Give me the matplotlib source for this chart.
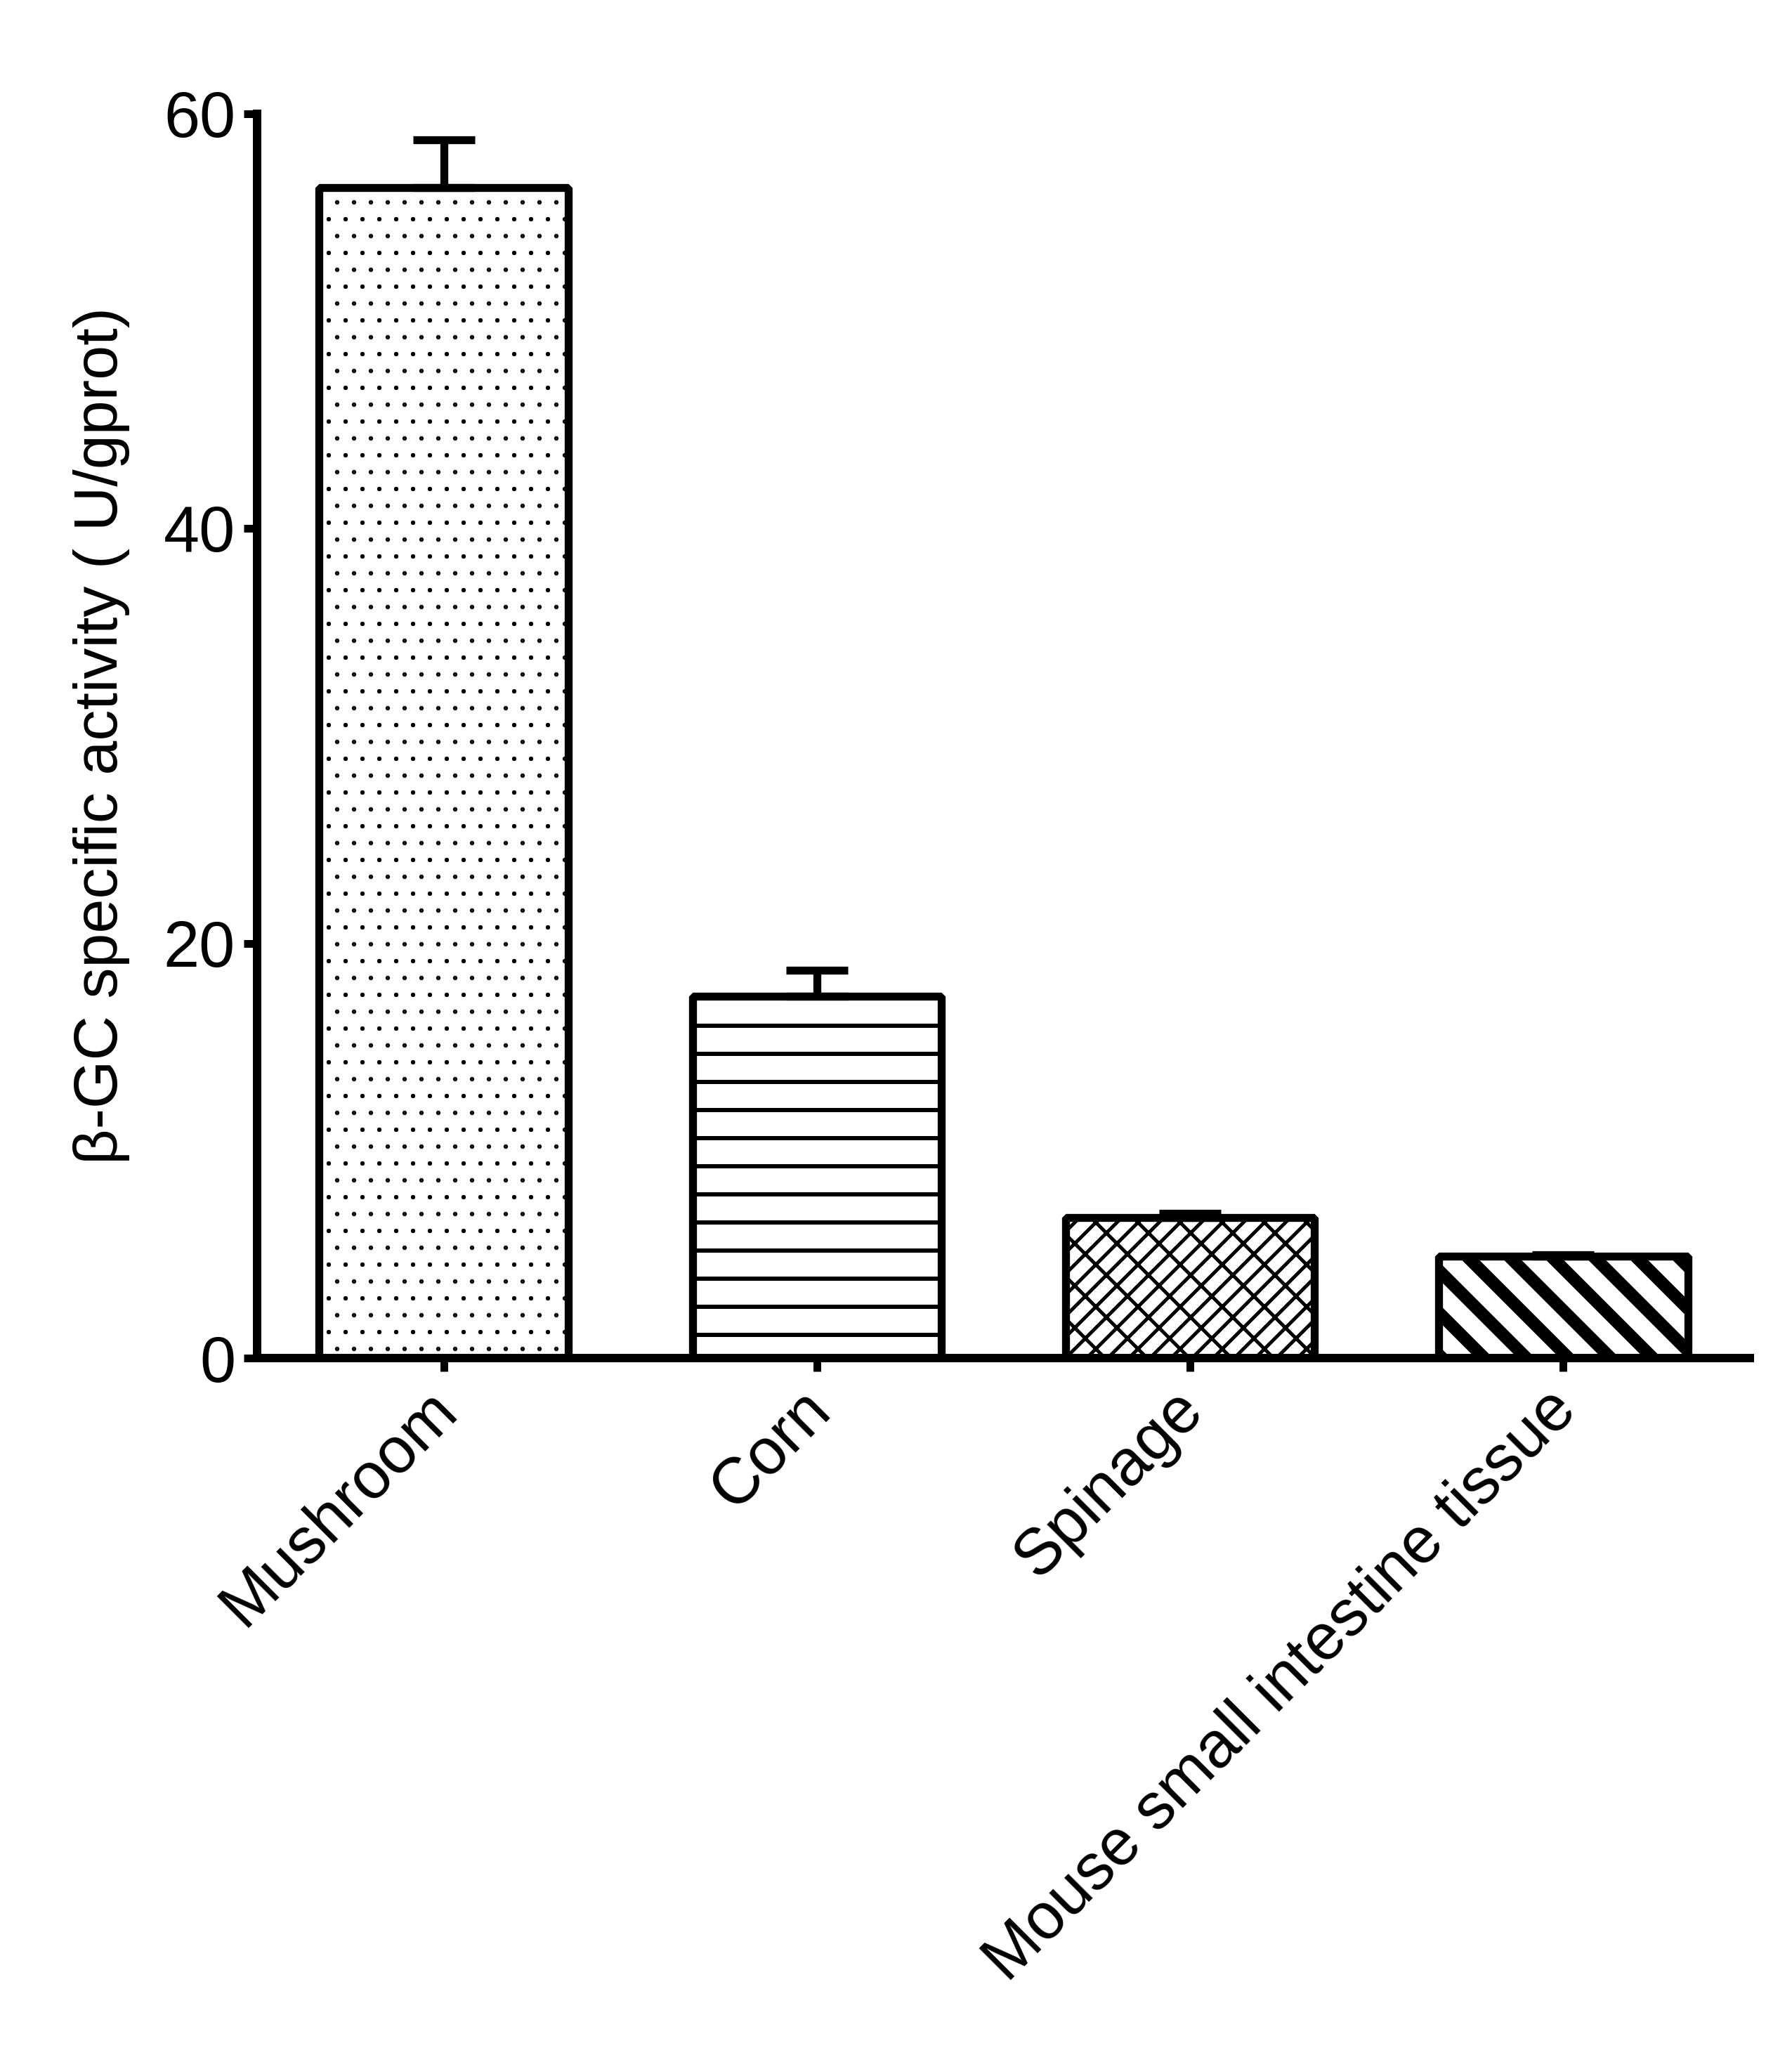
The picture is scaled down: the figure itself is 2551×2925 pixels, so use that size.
import matplotlib
matplotlib.use("Agg")
import numpy as np
from matplotlib import pyplot as plt
from matplotlib.transforms import ScaledTranslation

# values
categories = ["Mushroom", "Corn", "Spinage", "Mouse small intestine tissue"]
activity = [56.43, 17.44, 6.77, 4.91]
sem = [2.30, 1.26, 0.22, 0.08]
yticks = [0, 20, 40, 60]
ylabel = "β-GC specific activity ( U/gprot)"

# hatch look per bar (hatch density follows dpi in Agg)
hatches = [".....", "---", "/" * 8 + "\\" * 4, "\\" * 4]
hatch_lw = [0.15, 0.6, 0.5, 1.77]

DPI = 720
plt.rcParams['font.family'] = ['Liberation Sans', 'DejaVu Sans']
plt.rcParams['font.size'] = 9.2

fig = plt.figure(figsize=(2551 / DPI, 2925 / DPI), dpi=DPI)
ax = fig.add_axes([366 / 2551, 1 - 1933 / 2925, (2491 - 366) / 2551, (1933 - 161.5) / 2925])

x = np.arange(len(categories))
for i in range(len(categories)):
    plt.rcParams['hatch.linewidth'] = hatch_lw[i]
    bars = ax.bar(x[i], activity[i], width=0.667, color='white', edgecolor='black',
                  linewidth=1.13, hatch=hatches[i], zorder=2)
    for p in bars:
        p.set_joinstyle('bevel')
        if hasattr(p, 'set_hatch_linewidth'):
            p.set_hatch_linewidth(hatch_lw[i])

lower = [0] * len(sem)
ax.errorbar(x, activity, yerr=[lower, sem], fmt='none', ecolor='black',
            elinewidth=1.13, capsize=4.4, capthick=1.13, zorder=3)

ax.set_xlim(-0.5, 3.5)
ax.set_ylim(0, 60)
ax.set_yticks(yticks)
ax.set_xticks(x)
ax.set_xticklabels(categories, rotation=45, ha='right', va='top', rotation_mode='anchor')

ax.spines['top'].set_visible(False)
ax.spines['right'].set_visible(False)
for s in ['left', 'bottom']:
    ax.spines[s].set_linewidth(1.2)
    ax.spines[s].set_zorder(4)

ax.tick_params(axis='both', direction='out', length=1.9, width=1.1, labelsize=9.2)
ax.tick_params(axis='y', pad=1.2)
ax.tick_params(axis='x', pad=2.6)

# nudge the slanted labels a little up and left
shift = ScaledTranslation(-2.5 / 72, 1.5 / 72, fig.dpi_scale_trans)
for lbl in ax.get_xticklabels():
    lbl.set_transform(lbl.get_transform() + shift)

ax.set_ylabel(ylabel, fontsize=8.8)
ax.yaxis.set_label_coords(-0.085, 0.5)

fig.savefig("out.png", dpi=DPI, facecolor='white')
